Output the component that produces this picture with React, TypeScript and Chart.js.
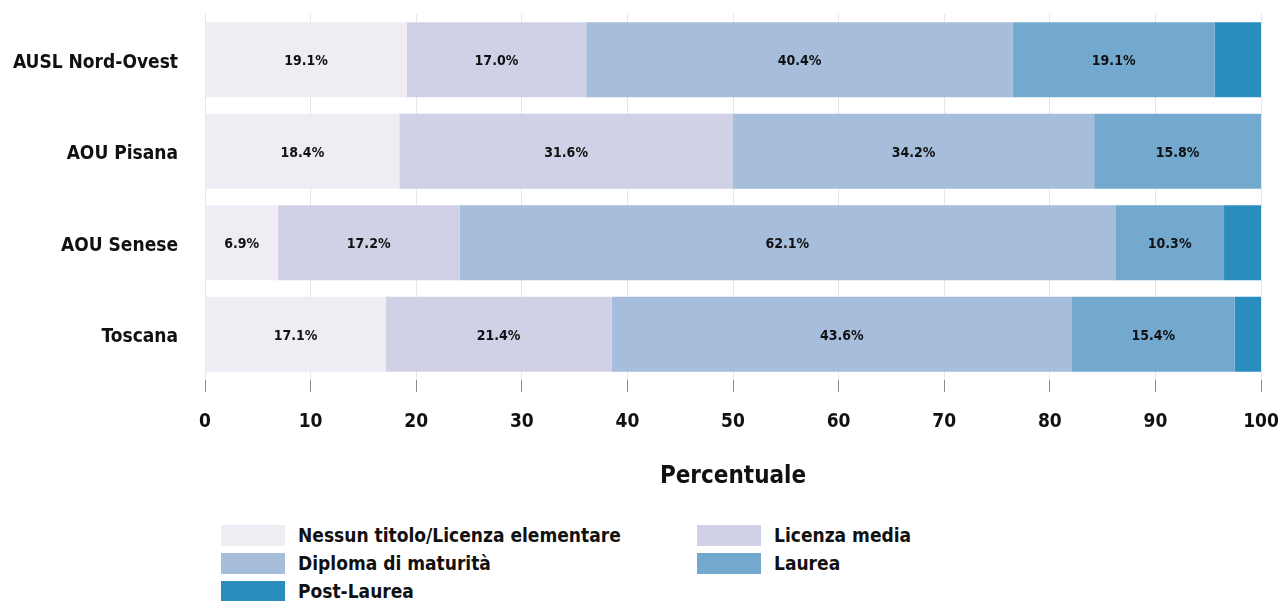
import { useEffect, useRef } from 'react';
import { Chart, registerables } from 'chart.js';

Chart.register(...registerables);

const FONT = '"DejaVu Sans Condensed", "DejaVu Sans", sans-serif';

const categories = ['AUSL Nord-Ovest', 'AOU Pisana', 'AOU Senese', 'Toscana'];
const seriesNames = [
  'Nessun titolo/Licenza elementare',
  'Licenza media',
  'Diploma di maturità',
  'Laurea',
  'Post-Laurea',
];
const nessunTitolo = [19.1, 18.4, 6.9, 17.1];
const licenzaMedia = [17.0, 31.6, 17.2, 21.4];
const diploma = [40.4, 34.2, 62.1, 43.6];
const laurea = [19.1, 15.8, 10.3, 15.4];
const postLaurea = [4.4, 0, 3.5, 2.5];
const seriesColors = ['#efecf4', '#d0d1e6', '#a6bddb', '#74a9cf', '#2b8cbe'];
const xTicks = [0, 10, 20, 30, 40, 50, 60, 70, 80, 90, 100];
const axisTitle = 'Percentuale';

const seriesValues = [nessunTitolo, licenzaMedia, diploma, laurea, postLaurea];

const W = 1278;
const H = 500;

const barLabels = {
  id: 'barLabels',
  afterDatasetsDraw(chart: any) {
    const ctx = chart.ctx;
    ctx.save();
    ctx.font = `bold 14px ${FONT}`;
    ctx.fillStyle = '#111111';
    ctx.textAlign = 'center';
    ctx.textBaseline = 'middle';
    chart.data.datasets.forEach((ds: any, di: number) => {
      const meta = chart.getDatasetMeta(di);
      meta.data.forEach((el: any, i: number) => {
        const v = ds.data[i] as number;
        if (!v || v < 5) return;
        const { x, base, y } = el.getProps(['x', 'base', 'y'], true);
        ctx.fillText(v.toFixed(1) + '%', (x + base) / 2, y + 2);
      });
    });
    ctx.restore();
  },
};

export default function App() {
  const ref = useRef<HTMLCanvasElement>(null);

  useEffect(() => {
    document.body.style.margin = '0';
    document.body.style.overflow = 'hidden';
    const chart = new Chart(ref.current!, {
      type: 'bar',
      data: {
        labels: categories,
        datasets: seriesNames.map((name, i) => ({
          label: name,
          data: seriesValues[i],
          backgroundColor: seriesColors[i],
          borderWidth: 0,
          barPercentage: 0.82,
          categoryPercentage: 1,
        })),
      },
      options: {
        indexAxis: 'y',
        responsive: false,
        maintainAspectRatio: false,
        animation: false,
        layout: { padding: { top: 14, right: 17, left: 0, bottom: 0 } },
        plugins: {
          legend: { display: false },
          tooltip: { enabled: false },
        },
        scales: {
          x: {
            stacked: true,
            min: 0,
            max: 100,
            afterBuildTicks: (scale: any) => {
              scale.ticks = xTicks.map((v) => ({ value: v }));
            },
            afterFit: (scale: any) => {
              scale.height = 120;
              scale.paddingLeft = 0;
              scale.paddingRight = 0;
            },
            grid: {
              color: '#e6e6e6',
              tickColor: '#8c8c8c',
              tickLength: 12,
              lineWidth: 1,
            },
            border: { display: false },
            ticks: {
              color: '#111111',
              font: { family: FONT, size: 19, weight: 'bold' },
              padding: 19,
            },
            title: {
              display: true,
              text: axisTitle,
              color: '#111111',
              font: { family: FONT, size: 24, weight: 'bold' },
              padding: { top: 0, bottom: 9 },
            },
          },
          y: {
            stacked: true,
            afterFit: (scale: any) => {
              scale.width = 205;
              scale.paddingTop = 0;
              scale.paddingBottom = 0;
            },
            grid: { display: false, drawTicks: false },
            border: { display: false },
            ticks: {
              color: '#111111',
              font: { family: FONT, size: 19, weight: 'bold' },
              padding: 27,
              labelOffset: 3,
            },
          },
        },
      },
      plugins: [barLabels],
    });
    return () => chart.destroy();
  }, []);

  const legendItems = seriesNames.map((name, i) => ({ name, color: seriesColors[i] }));

  return (
    <div style={{ position: 'relative', width: W, height: 601, fontFamily: FONT }}>
      <canvas ref={ref} width={W} height={H} style={{ display: 'block', width: W, height: H }} />
      <div
        style={{
          position: 'absolute',
          left: 221,
          top: 525,
          display: 'grid',
          gridTemplateColumns: '476px 300px',
          rowGap: 7,
        }}
      >
        {legendItems.map((it) => (
          <div key={it.name} style={{ display: 'flex', alignItems: 'center', height: 21 }}>
            <div style={{ width: 64, height: 21, background: it.color, flex: 'none' }} />
            <span
              style={{
                marginLeft: 13,
                fontSize: 19,
                fontWeight: 'bold',
                color: '#111111',
                whiteSpace: 'nowrap',
                lineHeight: '21px',
              }}
            >
              {it.name}
            </span>
          </div>
        ))}
      </div>
    </div>
  );
}
